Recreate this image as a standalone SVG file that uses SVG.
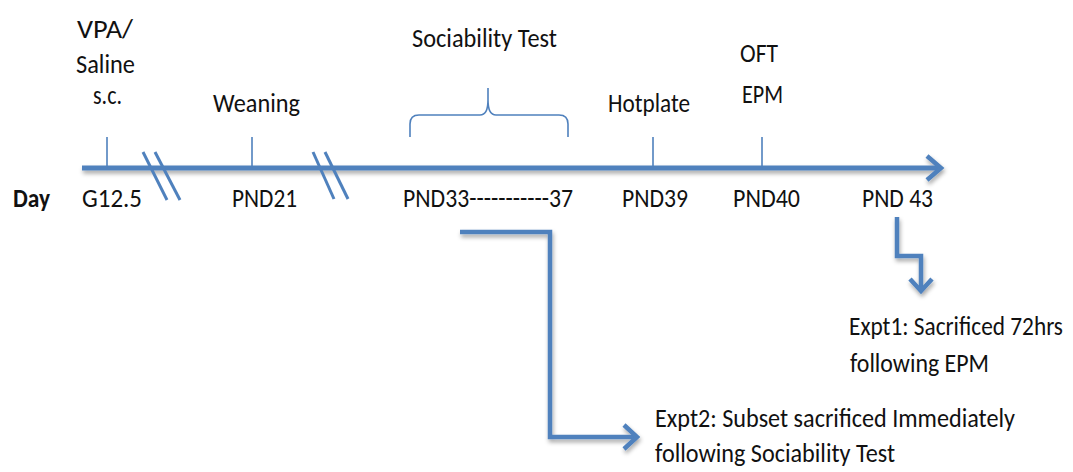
<svg xmlns="http://www.w3.org/2000/svg" width="1073" height="472" viewBox="0 0 1073 472">
<style>
text{font-family:Carlito,"Liberation Sans",Arial,sans-serif;font-size:27px;fill:#111;}
.b{font-weight:bold;}
.axis{stroke:#4f81bd;stroke-width:5;fill:none;stroke-linecap:butt;}
.tick{stroke:#4f81bd;stroke-width:1.6;fill:none;}
.brk{stroke:#4f81bd;stroke-width:3;fill:none;}
.conn{stroke:#4f81bd;stroke-width:4.5;fill:none;stroke-linejoin:miter;}
.head{stroke:#4f81bd;stroke-width:4.5;fill:none;stroke-linejoin:miter;stroke-linecap:butt;}
</style>
<defs>
<filter id="sh" x="-5%" y="-50%" width="110%" height="300%">
<feDropShadow dx="1" dy="3" stdDeviation="2" flood-color="#000" flood-opacity="0.35"/>
</filter>
</defs>
<rect width="1073" height="472" fill="#fff"/>
<g id="connectors">
<g filter="url(#sh)">
<line class="axis" x1="82" y1="168" x2="941" y2="168"/>
<polyline class="head" points="927,156 941,168 927,180"/>
<polyline class="conn" points="460,232 550,232 550,437 636,437"/>
<polyline class="head" points="624,425 637,437 624,449"/>
<polyline class="conn" points="897,217 897,256 921,256 921,291"/>
<polyline class="head" points="910,279 921,291 932,279"/>
</g>
<line class="tick" x1="107" y1="137" x2="107" y2="168"/>
<line class="tick" x1="252" y1="137" x2="252" y2="168"/>
<line class="tick" x1="653" y1="137" x2="653" y2="168"/>
<line class="tick" x1="762" y1="137" x2="762" y2="168"/>
<line class="brk" x1="143" y1="152" x2="167" y2="200"/>
<line class="brk" x1="155" y1="152" x2="180" y2="200"/>
<line class="brk" x1="313" y1="152" x2="334" y2="199"/>
<line class="brk" x1="325" y1="152" x2="348" y2="199"/>
<path class="tick" d="M410,137 L410,124 Q410,115 419,115 L480,115 Q488,115 488,100 L488,88 M488,88 L488,100 Q488,115 496,115 L559,115 Q568,115 568,124 L568,137"/>
</g>
<g id="n-vpa">
<text x="77" y="38" textLength="56" lengthAdjust="spacingAndGlyphs">VPA/</text>
<text x="76" y="73" textLength="59" lengthAdjust="spacingAndGlyphs">Saline</text>
<text x="93" y="104" textLength="29" lengthAdjust="spacingAndGlyphs">s.c.</text>
</g>
<g id="n-weaning"><text x="213" y="112" textLength="87" lengthAdjust="spacingAndGlyphs">Weaning</text></g>
<g id="n-sociability"><text x="412" y="47" textLength="145" lengthAdjust="spacingAndGlyphs">Sociability Test</text></g>
<g id="n-hotplate"><text x="608" y="112" textLength="82" lengthAdjust="spacingAndGlyphs">Hotplate</text></g>
<g id="n-oft">
<text x="740" y="62" textLength="38" lengthAdjust="spacingAndGlyphs">OFT</text>
<text x="742" y="103" textLength="41" lengthAdjust="spacingAndGlyphs">EPM</text>
</g>
<g id="n-day"><text class="b" x="13" y="207" textLength="37" lengthAdjust="spacingAndGlyphs">Day</text></g>
<g id="n-g125"><text x="82" y="207" textLength="60" lengthAdjust="spacingAndGlyphs">G12.5</text></g>
<g id="n-pnd21"><text x="232" y="207" textLength="65" lengthAdjust="spacingAndGlyphs">PND21</text></g>
<g id="n-pnd33"><text x="403" y="207" textLength="170" lengthAdjust="spacingAndGlyphs">PND33-----------37</text></g>
<g id="n-pnd39"><text x="622" y="207" textLength="66" lengthAdjust="spacingAndGlyphs">PND39</text></g>
<g id="n-pnd40"><text x="733" y="207" textLength="67" lengthAdjust="spacingAndGlyphs">PND40</text></g>
<g id="n-pnd43"><text x="862" y="207" textLength="71" lengthAdjust="spacingAndGlyphs">PND 43</text></g>
<g id="n-expt1">
<text x="849" y="335" textLength="214" lengthAdjust="spacingAndGlyphs">Expt1: Sacrificed 72hrs</text>
<text x="850" y="372" textLength="139" lengthAdjust="spacingAndGlyphs">following EPM</text>
</g>
<g id="n-expt2">
<text x="655" y="427" textLength="360" lengthAdjust="spacingAndGlyphs">Expt2: Subset sacrificed Immediately</text>
<text x="655" y="462" textLength="240" lengthAdjust="spacingAndGlyphs">following Sociability Test</text>
</g>
</svg>
